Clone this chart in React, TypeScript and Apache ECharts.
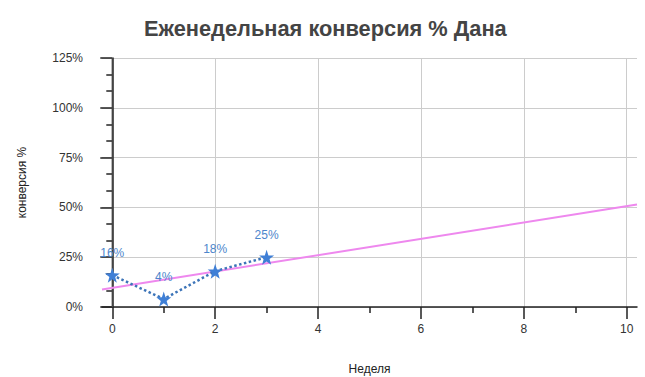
import React, { useEffect, useRef } from "react";
import * as echarts from "echarts";

const weeks = [0, 1, 2, 3];
const conversion = [16, 4, 18, 25];
const trendX = [-0.2, 10.2];
const trendY = [8.8, 51.4];
const zeroLineX = [0, 0];
const zeroLineY = [0, 125];
const xTicks = [0, 2, 4, 6, 8, 10];
const xMinorTicks = [1, 3, 5, 7, 9];
const title = "Еженедельная конверсия % Дана";
const xName = "Неделя";
const yName = "конверсия %";

const FONT = "'Liberation Sans', Arial, sans-serif";

export default function App() {
  const ref = useRef<HTMLDivElement>(null);
  useEffect(() => {
    if (!ref.current) return;
    const chart = echarts.init(ref.current, undefined, { renderer: "svg" });
    chart.setOption({
      animation: false,
      backgroundColor: "#ffffff",
      textStyle: { fontFamily: FONT },
      title: {
        text: title,
        left: 139,
        top: 12,
        textStyle: { fontFamily: FONT, fontSize: 21.8, fontWeight: "bold", color: "#444" },
      },
      grid: { left: 102, right: 8, top: 58, bottom: 70, containLabel: false, outerBoundsMode: "none" },
      xAxis: [
        {
          type: "value",
          min: -0.2,
          max: 10.2,
          name: xName,
          nameLocation: "middle",
          nameGap: 56,
          nameTextStyle: { fontFamily: FONT, fontSize: 12, color: "#222" },
          axisLine: { show: true, onZero: false, lineStyle: { color: "#222", width: 1.5 } },
          axisTick: { show: true, length: 12, customValues: xTicks, lineStyle: { color: "#222", width: 1.5 } },
          axisLabel: { customValues: xTicks, color: "#333", fontSize: 12, margin: 16, fontFamily: FONT },
          splitLine: { show: true, lineStyle: { color: "#cccccc", width: 1 } },
          minorTick: { show: false },
        },
        {
          type: "value",
          min: -0.2,
          max: 10.2,
          position: "bottom",
          axisLine: { show: false },
          axisTick: { show: true, length: 6, customValues: xMinorTicks, lineStyle: { color: "#222", width: 1.5 } },
          axisLabel: { show: false },
          splitLine: { show: false },
        },
      ],
      yAxis: {
        type: "value",
        min: 0,
        max: 125,
        interval: 25,
        name: yName,
        nameLocation: "middle",
        nameGap: 74,
        nameRotate: 90,
        nameTextStyle: { fontFamily: FONT, fontSize: 12, color: "#222" },
        axisLine: { show: true, lineStyle: { color: "#222", width: 1.5 } },
        axisTick: { show: true, length: 12, lineStyle: { color: "#222", width: 1.5 } },
        minorTick: { show: true, splitNumber: 3, length: 6, lineStyle: { color: "#222", width: 1.5 } },
        axisLabel: { formatter: "{value}%", color: "#333", fontSize: 12, margin: 19, fontFamily: FONT },
        splitLine: { show: true, lineStyle: { color: "#cccccc", width: 1 } },
      },
      series: [
        {
          type: "line",
          xAxisIndex: 0,
          data: zeroLineX.map((x, i) => [x, zeroLineY[i]]),
          symbol: "none",
          lineStyle: { color: "#444", width: 1.3 },
          silent: true,
          z: 1,
        },
        {
          type: "line",
          xAxisIndex: 0,
          data: trendX.map((x, i) => [x, trendY[i]]),
          symbol: "none",
          lineStyle: { color: "#ee88ee", width: 2 },
          silent: true,
          z: 2,
        },
        {
          type: "line",
          xAxisIndex: 0,
          data: weeks.map((w, i) => [w, conversion[i]]),
          symbol: "path://M50,0 L61.8,35.1 L98.9,35.5 L69.1,57.6 L79.4,91.8 L50,71.8 L20.6,91.8 L30.9,57.6 L1.1,35.5 L38.2,35.1 Z",
          symbolSize: 15,
          itemStyle: { color: "#3f7fd6" },
          lineStyle: { color: "#3c74b8", width: 2.5, type: "dotted" },
          label: {
            show: true,
            position: "top",
            distance: 9,
            formatter: (p: any) => p.value[1] + "%",
            color: "#4d86cc",
            fontSize: 12,
            fontFamily: FONT,
          },
          z: 3,
        },
      ],
    });
    return () => chart.dispose();
  }, []);
  return (
    <div
      ref={ref}
      style={{ position: "fixed", left: 0, top: 0, width: 645, height: 377 }}
    />
  );
}
